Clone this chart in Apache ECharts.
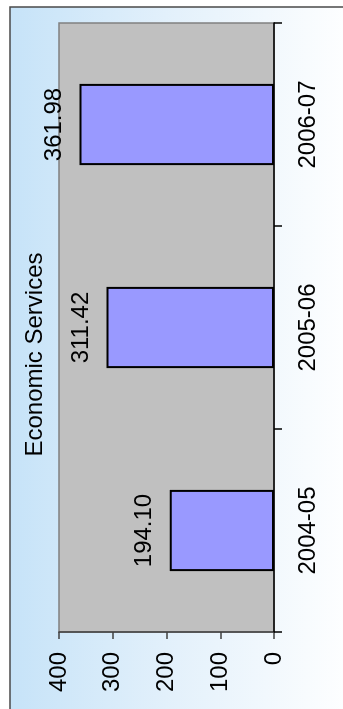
<!DOCTYPE html>
<html>
<head>
<meta charset="utf-8">
<script src="https://cdn.jsdelivr.net/npm/echarts@6/dist/echarts.min.js"></script>
<style>
  html, body { margin: 0; padding: 0; background: #ffffff; overflow: hidden; }
  body { width: 343px; height: 709px; position: relative; }
  /* The chart is laid out landscape and turned a quarter-turn counter-clockwise */
  #chart {
    position: absolute; left: 0; top: 0;
    width: 709px; height: 343px;
    transform-origin: 0 0;
    transform: translate(0px, 709px) rotate(-90deg);
  }
</style>
</head>
<body>
<div id="chart"></div>
<script>
const title = 'Economic Services';
const categories = ['2004-05', '2005-06', '2006-07'];
const values = [194.10, 311.42, 361.98];
const valueTicks = { min: 0, max: 400, interval: 100 };

const FONT = '"Liberation Sans", Arial, sans-serif';

const chart = echarts.init(document.getElementById('chart'), null, { renderer: 'canvas' });

chart.setOption({
  animation: false,
  backgroundColor: '#ffffff',
  textStyle: { fontFamily: FONT },
  title: {
    text: title,
    left: 'center',
    top: 18,
    textStyle: { fontFamily: FONT, fontSize: 24, fontWeight: 'normal', color: '#000000' }
  },
  graphic: [{
    type: 'rect',
    z: -10,
    silent: true,
    shape: { x: -5, y: 10, width: 707, height: 345 },
    style: {
      fill: new echarts.graphic.LinearGradient(0, 0, 0, 1, [
        { offset: 0, color: '#c6e3f8' },
        { offset: 0.45, color: '#e2f0fb' },
        { offset: 1, color: '#ffffff' }
      ]),
      stroke: '#4a4a4a',
      lineWidth: 1.5
    }
  }],
  grid: {
    left: 77, right: 23, top: 59, bottom: 69,
    show: true,
    backgroundColor: '#c0c0c0',
    borderColor: '#808080',
    borderWidth: 1.5
  },
  xAxis: {
    type: 'category',
    data: categories,
    boundaryGap: true,
    axisLine: { show: true, lineStyle: { color: '#000000', width: 1.5 } },
    axisTick: { show: true, length: 8, alignWithLabel: false, lineStyle: { color: '#000000', width: 1.5 } },
    axisLabel: { margin: 22, fontSize: 24, color: '#000000', fontFamily: FONT },
    splitLine: { show: false }
  },
  yAxis: {
    type: 'value',
    min: valueTicks.min,
    max: valueTicks.max,
    interval: valueTicks.interval,
    axisLine: { show: true, lineStyle: { color: '#404040', width: 1.5 } },
    axisTick: { show: true, length: 7, lineStyle: { color: '#404040', width: 1.5 } },
    axisLabel: { margin: 20, fontSize: 24, color: '#000000', fontFamily: FONT },
    splitLine: { show: false }
  },
  series: [{
    type: 'bar',
    data: values,
    barWidth: '40%',
    itemStyle: { color: '#9999ff', borderColor: '#000000', borderWidth: 2 },
    label: {
      show: true,
      position: 'top',
      distance: 13,
      fontSize: 24,
      color: '#000000',
      fontFamily: FONT,
      formatter: p => p.value.toFixed(2)
    }
  }]
});
</script>
</body>
</html>
